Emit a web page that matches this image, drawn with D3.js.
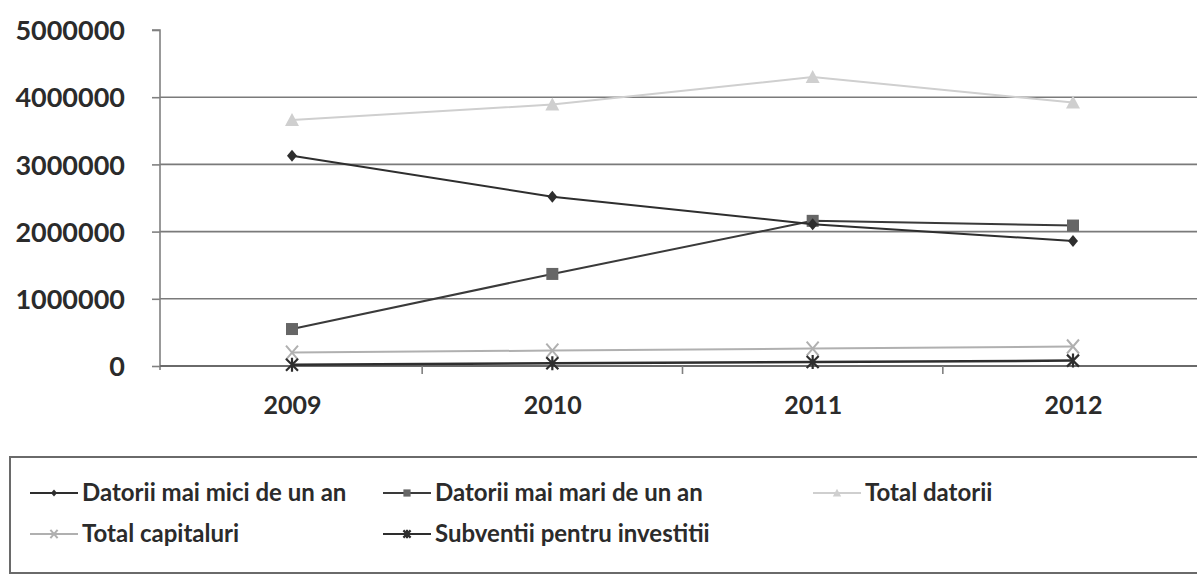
<!DOCTYPE html>
<html>
<head>
<meta charset="utf-8">
<script src="https://cdn.jsdelivr.net/npm/d3@7"></script>
<style>
  html, body { margin: 0; padding: 0; background: #fff; }
  svg { display: block; }
  text { font-family: Lato, "Open Sans", sans-serif; font-weight: bold; fill: #2b2b2b; }
</style>
</head>
<body>
<svg id="chart" width="1197" height="585"></svg>
<script>
const years = ["2009", "2010", "2011", "2012"];
const seriesNames = ["Datorii mai mici de un an", "Datorii mai mari de un an", "Total datorii", "Total capitaluri", "Subventii pentru investitii"];
const datoriiMici = [3130000, 2520000, 2110000, 1860000];
const datoriiMari = [550000, 1370000, 2160000, 2090000];
const totalDatorii = [3660000, 3890000, 4300000, 3920000];
const totalCapitaluri = [200000, 230000, 260000, 290000];
const subventii = [20000, 40000, 60000, 80000];
const yTicks = [0, 1000000, 2000000, 3000000, 4000000, 5000000];

const series = [
  { name: seriesNames[0], values: datoriiMici, color: "#2e2e2e", marker: "diamond", width: 2 },
  { name: seriesNames[1], values: datoriiMari, color: "#3a3a3a", marker: "square", width: 2, mColor: "#666" },
  { name: seriesNames[2], values: totalDatorii, color: "#cfcfcf", marker: "triangle", width: 2 },
  { name: seriesNames[3], values: totalCapitaluri, color: "#b0b0b0", marker: "x", width: 2 },
  { name: seriesNames[4], values: subventii, color: "#2e2e2e", marker: "star", width: 2.5 }
];

const svg = d3.select("#chart");
const plotLeft = 160, plotRight = 1197, plotTop = 30, plotBottom = 366;

const x = d3.scalePoint().domain(years).range([292, 1073]);
const step = x.step();
const y = d3.scaleLinear().domain([0, 5000000]).range([plotBottom, plotTop]);

// gridlines
svg.append("g").selectAll("line").data(yTicks.filter(d => d > 0 && d < 5000000)).join("line")
  .attr("x1", plotLeft).attr("x2", plotRight)
  .attr("y1", d => y(d)).attr("y2", d => y(d))
  .attr("stroke", "#7a7a7a").attr("stroke-width", 1.6);

// y axis
const yAxis = d3.axisLeft(y).tickValues(yTicks).tickSize(8).tickPadding(27).tickFormat(d3.format("d"));
const gy = svg.append("g").attr("transform", `translate(${plotLeft},0)`).call(yAxis);
gy.select(".domain").attr("stroke", "#808080").attr("stroke-width", 1.6).attr("d", `M-8,${plotTop}H0V${plotBottom + 4}`);
gy.selectAll(".tick line").attr("stroke", "#808080").attr("stroke-width", 1.6);
gy.selectAll(".tick text").attr("font-size", 27).attr("fill", "#333").attr("dy", "0.36em")
  .style("font-family", "Lato, sans-serif").style("font-weight", "bold");

// x axis
const xAxis = d3.axisBottom(x).tickSize(0).tickPadding(30);
const gx = svg.append("g").attr("transform", `translate(0,${plotBottom})`).call(xAxis);
gx.select(".domain").attr("stroke", "#6a6a6a").attr("stroke-width", 1.8).attr("d", `M${plotLeft},0H${plotRight}`);
gx.selectAll(".tick text").attr("font-size", 25).attr("fill", "#333")
  .style("font-family", "Lato, sans-serif").style("font-weight", "bold");
// category separators
svg.append("g").selectAll("line").data(years.slice(0, 3)).join("line")
  .attr("x1", d => x(d) + step / 2).attr("x2", d => x(d) + step / 2)
  .attr("y1", plotBottom).attr("y2", plotBottom + 8)
  .attr("stroke", "#808080").attr("stroke-width", 1.6);

function drawMarker(g, type, cx, cy, color, s) {
  s = s || 1;
  if (type === "diamond") {
    g.append("path").attr("d", `M${cx},${cy - 6 * s}L${cx + 5 * s},${cy}L${cx},${cy + 6 * s}L${cx - 5 * s},${cy}Z`).attr("fill", color);
  } else if (type === "square") {
    g.append("rect").attr("x", cx - 6 * s).attr("y", cy - 6 * s).attr("width", 12 * s).attr("height", 12 * s).attr("fill", color);
  } else if (type === "triangle") {
    g.append("path").attr("d", `M${cx},${cy - 7 * s}L${cx + 7 * s},${cy + 6 * s}L${cx - 7 * s},${cy + 6 * s}Z`).attr("fill", color);
  } else if (type === "x") {
    g.append("path").attr("d", `M${cx - 6 * s},${cy - 7 * s}L${cx + 6 * s},${cy + 7 * s}M${cx + 6 * s},${cy - 7 * s}L${cx - 6 * s},${cy + 7 * s}`)
      .attr("stroke", color).attr("stroke-width", 2);
  } else if (type === "star") {
    g.append("path").attr("d", `M${cx - 6 * s},${cy - 6 * s}L${cx + 6 * s},${cy + 6 * s}M${cx + 6 * s},${cy - 6 * s}L${cx - 6 * s},${cy + 6 * s}M${cx},${cy - 7 * s}L${cx},${cy + 7 * s}`)
      .attr("stroke", color).attr("stroke-width", 2.2);
  }
}

const line = d3.line().x((d, i) => x(years[i])).y(d => y(d));
const order = [2, 3, 4, 1, 0];
order.forEach(k => {
  const s = series[k];
  const g = svg.append("g");
  g.append("path").datum(s.values).attr("d", line).attr("fill", "none")
    .attr("stroke", s.color).attr("stroke-width", s.width);
  s.values.forEach((v, i) => drawMarker(g, s.marker, x(years[i]), y(v), s.mColor || s.color));
});

// legend
const lg = svg.append("g");
lg.append("rect").attr("x", 10).attr("y", 457).attr("width", 1200).attr("height", 116)
  .attr("fill", "none").attr("stroke", "#6a6a6a").attr("stroke-width", 2);
const legendPos = [
  { x: 30, y: 493 }, { x: 383, y: 493 }, { x: 813, y: 493 },
  { x: 30, y: 534 }, { x: 383, y: 534 }
];
series.forEach((s, i) => {
  const p = legendPos[i];
  const g = lg.append("g");
  g.append("line").attr("x1", p.x).attr("x2", p.x + 48).attr("y1", p.y).attr("y2", p.y)
    .attr("stroke", s.color).attr("stroke-width", 2);
  drawMarker(g, s.marker, p.x + 24, p.y, s.mColor || s.color, 0.6);
  g.append("text").attr("x", p.x + 52).attr("y", p.y).attr("dy", "0.35em")
    .attr("font-size", 24).attr("fill", "#333").text(s.name);
});
</script>
</body>
</html>
